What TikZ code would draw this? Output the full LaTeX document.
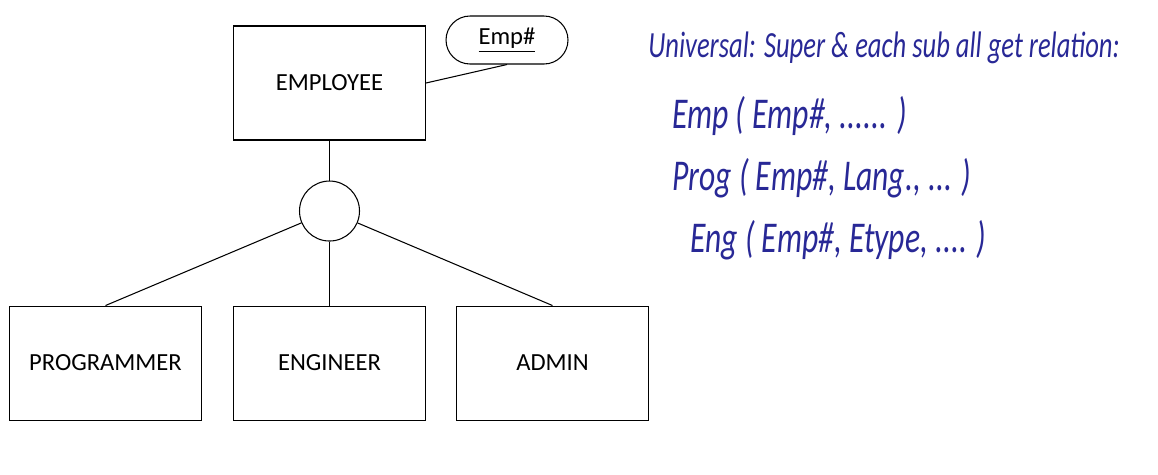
\documentclass[tikz,border=0pt]{standalone}
\usepackage{fontspec}
\setmainfont{Carlito}
\newfontfamily\handfont[FakeStretch=0.72]{Carlito Italic}
\usepackage{xcolor}
\usetikzlibrary{positioning}

\definecolor{handink}{RGB}{40,40,150}

\begin{document}
\begin{tikzpicture}[
    x=0.02cm, y=-0.02cm,
    every node/.style={font=\fontsize{14}{16}\selectfont},
    entity/.style={
        rectangle,
        draw,
        line width=0.6pt,
        minimum width=3.84cm,
        minimum height=2.28cm
    },
    attrib/.style={
        rectangle,
        draw,
        rounded corners=0.48cm,
        line width=0.6pt,
        minimum width=2.44cm,
        minimum height=0.96cm
    },
    isa/.style={
        circle,
        draw,
        line width=0.6pt,
        minimum size=1.2cm,
        inner sep=0pt
    },
    link/.style={line width=0.6pt},
    note/.style={
        anchor=base west,
        inner sep=0pt,
        text=handink,
        font=\handfont\fontsize{21}{24}\selectfont
    },
    relation/.style={
        note,
        font=\handfont\fontsize{25}{28}\selectfont
    }
]

\useasboundingbox (0,0) rectangle (1158,474);

% =========================================================
% SUPERCLASS AND ATTRIBUTE
% =========================================================

\node[entity] (employee) at (329.5,83) {EMPLOYEE};

\node[attrib] (empno) at (507,40) {\underline{Emp\#}};

\node[isa, below=0.8cm of employee] (special) {};


% =========================================================
% SUBCLASSES
% =========================================================

\node[entity, below=1.28cm of special] (engineer) {ENGINEER};

\node[entity, left=0.62cm of engineer] (programmer) {PROGRAMMER};

\node[entity, right=0.6cm of engineer] (admin) {ADMIN};


% =========================================================
% LINKS
% =========================================================

\draw[link] (employee.east) -- (empno.south);
\draw[link] (employee) -- (special);

\draw[link] (special) -- (programmer.north);
\draw[link] (special) -- (engineer);
\draw[link] (special) -- (admin.north);


% =========================================================
% HANDWRITTEN NOTES
% =========================================================

\node[note] (rule) at (648,57) {Universal: Super \& each sub all get relation:};
\node[relation] (relemp) at (672,128) {Emp ( Emp\#, ...... )};
\node[relation] (relprog) at (672,190) {Prog ( Emp\#, Lang., ... )};
\node[relation] (releng) at (690,252) {Eng ( Emp\#, Etype, .... )};

\end{tikzpicture}
\end{document}
